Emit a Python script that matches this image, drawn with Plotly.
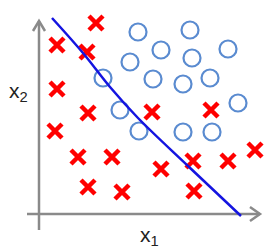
import plotly.graph_objects as go

# Data in chart coordinates (origin at axis crossing)
cross_x = [57, 18, 48, 18, 49, 16, 39, 73, 49, 83, 113, 172, 122, 154, 189, 216, 155]
cross_y = [191, 169, 162, 125, 101, 83, 57, 57, 27, 22, 102, 104, 45, 53, 53, 64, 23]

circle_x = [99, 151, 122, 189, 91, 153, 64, 114, 144, 171, 81, 199, 100, 144, 173]
circle_y = [182, 184, 164, 165, 152, 156, 136, 135, 130, 136, 104, 111, 83, 82, 82]

boundary_x = [13, 44, 71, 99, 149, 202]
boundary_y = [196, 161, 127, 96, 48, -2]

x_axis_label = "x<sub>1</sub>"
y_axis_label = "x<sub>2</sub>"

GRAY = "#8a8a8a"
fig = go.Figure()

# axes lines with open chevron arrowheads
fig.add_trace(go.Scatter(x=[-12, 221], y=[0, 0], mode="lines",
                         line=dict(color=GRAY, width=2.5), hoverinfo="skip"))
fig.add_trace(go.Scatter(x=[211, 221, 211], y=[7, 0, -7], mode="lines",
                         line=dict(color=GRAY, width=2.5), hoverinfo="skip"))
fig.add_trace(go.Scatter(x=[0, 0], y=[-16, 193], mode="lines",
                         line=dict(color=GRAY, width=2.5), hoverinfo="skip"))
fig.add_trace(go.Scatter(x=[-6, 0, 6], y=[183, 193, 183], mode="lines",
                         line=dict(color=GRAY, width=2.5), hoverinfo="skip"))

fig.add_trace(go.Scatter(x=circle_x, y=circle_y, mode="markers",
                         marker=dict(symbol="circle-open", size=17,
                                     color="#5a8bd0", line=dict(width=2.2))))
fig.add_trace(go.Scatter(x=cross_x, y=cross_y, mode="markers",
                         marker=dict(symbol="x-thin", size=14,
                                     color="#ff0000",
                                     line=dict(width=4.5, color="#ff0000"))))
fig.add_trace(go.Scatter(x=boundary_x, y=boundary_y, mode="lines",
                         line=dict(color="#1414e0", width=2.5, shape="spline"),
                         hoverinfo="skip"))

fig.add_annotation(x=110, y=-22, text=x_axis_label, showarrow=False,
                   font=dict(size=21, color="#222", family="Liberation Sans"))
fig.add_annotation(x=-21, y=122, text=y_axis_label, showarrow=False,
                   font=dict(size=21, color="#222", family="Liberation Sans"))

fig.update_layout(
    width=278, height=248,
    margin=dict(l=0, r=0, t=0, b=0),
    paper_bgcolor="white", plot_bgcolor="white",
    showlegend=False,
    xaxis=dict(range=[-39, 239], visible=False, fixedrange=True),
    yaxis=dict(range=[-34, 214], visible=False, fixedrange=True),
)

fig.write_html("out.html", config={"displayModeBar": False})
